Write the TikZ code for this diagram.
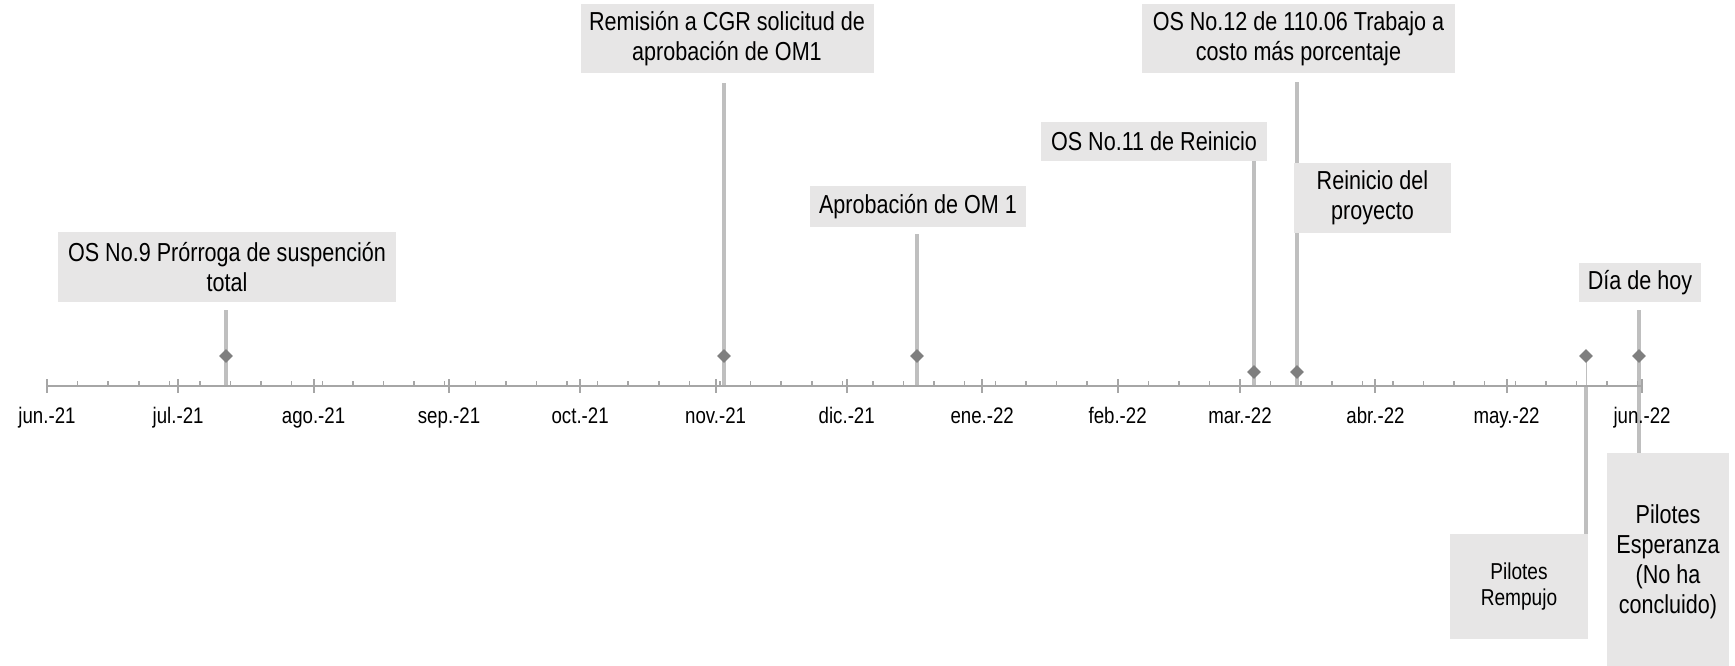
\documentclass[tikz,border=0pt]{standalone}
\usepackage{fontspec}
\setmainfont{Liberation Sans}[FakeStretch=0.83]
\usetikzlibrary{shapes.geometric}
\definecolor{boxgray}{HTML}{E7E6E6}
\definecolor{stemgray}{HTML}{BFBFBF}
\definecolor{axisgray}{HTML}{A6A6A6}
\definecolor{markgray}{HTML}{7F7F7F}
\begin{document}
\begin{tikzpicture}[x=1pt,y=-1pt,
  evbox/.style={fill=boxgray, inner sep=0pt, align=center, font=\fontsize{26}{30}\selectfont, text=black},
  stem/.style={draw=stemgray, line width=3.5pt},
  thinstem/.style={draw=stemgray, line width=1pt},
  marker/.style={diamond, fill=markgray, minimum width=14pt, minimum height=14pt, inner sep=0pt},
  axisline/.style={draw=axisgray, line width=2.5pt},
  majortick/.style={draw=axisgray, line width=2pt},
  minortick/.style={draw=axisgray, line width=1.5pt},
  monthlbl/.style={font=\fontsize{22.5}{26}\selectfont, anchor=base, inner sep=0pt}
]
\useasboundingbox (0,0) rectangle (1735,665);

% stems
\coordinate (s1t) at (226,310); \coordinate (s1b) at (226,386);
\coordinate (s2t) at (724,83);  \coordinate (s2b) at (724,386);
\coordinate (s3t) at (917,234); \coordinate (s3b) at (917,386);
\coordinate (s4t) at (1254,161); \coordinate (s4b) at (1254,386);
\coordinate (s5t) at (1297,82); \coordinate (s5b) at (1297,386);
\coordinate (s8t) at (1586,356); \coordinate (s8m) at (1586,386); \coordinate (s8b) at (1586,534);
\coordinate (s7t) at (1639,310); \coordinate (s7m) at (1639,386); \coordinate (s7b) at (1639,453);

\draw[stem] (s1t) -- (s1b);
\draw[stem] (s2t) -- (s2b);
\draw[stem] (s3t) -- (s3b);
\draw[stem] (s4t) -- (s4b);
\draw[stem] (s5t) -- (s5b);
\draw[thinstem] (s8t) -- (s8m);
\draw[stem] (s8m) -- (s8b);
\draw[stem] (s7t) -- (s7m);
\draw[stem] (s7m) -- (s7b);

% boxes
\node[evbox, minimum width=338pt, minimum height=70pt] (b1) at (227,267) {OS No.9 Prórroga de suspención\\total};
\node[evbox, minimum width=293pt, minimum height=69pt] (b2) at (727,38.5) {Remisión a CGR solicitud de\\aprobación de OM1};
\node[evbox, minimum width=216pt, minimum height=41pt] (b3) at (918,206.5) {Aprobación de OM 1};
\node[evbox, minimum width=226pt, minimum height=39pt] (b4) at (1154,141.5) {OS No.11 de Reinicio};
\node[evbox, minimum width=313pt, minimum height=69pt] (b5) at (1298.5,38.5) {OS No.12 de 110.06 Trabajo a\\costo más porcentaje};
\node[evbox, minimum width=157pt, minimum height=70pt] (b6) at (1372.5,198) {Reinicio del\\proyecto};
\node[evbox, minimum width=122pt, minimum height=39pt] (b7) at (1640,282.5) {Día de hoy};
\node[evbox, minimum width=138pt, minimum height=105pt, font=\fontsize{23}{26.5}\selectfont] (b8) at (1519,586.5) {Pilotes\\Rempujo};
\node[evbox, minimum width=122pt, minimum height=218pt] (b9) at (1668,562) {Pilotes\\Esperanza\\(No ha\\concluido)};

% axis
\coordinate (axL) at (47,386); \coordinate (axR) at (1642,386);
\draw[axisline] (axL) -- (axR);
\foreach \d in {0,30,61,92,122,153,183,214,245,273,304,334,365} {
  \draw[majortick] ({47+4.37*\d},379) -- ({47+4.37*\d},393);
}
\foreach \w in {1,...,52} {
  \draw[minortick] ({47+4.37*7*\w},381) -- ({47+4.37*7*\w},386);
}
\foreach \d/\l [count=\i] in {0/jun.-21,30/jul.-21,61/ago.-21,92/sep.-21,122/oct.-21,153/nov.-21,183/dic.-21,214/ene.-22,245/feb.-22,273/mar.-22,304/abr.-22,334/may.-22,365/jun.-22} {
  \node[monthlbl] (m\i) at ({47+4.37*\d},423) {\l};
}

% markers
\node[marker] (d1) at (226,356) {};
\node[marker] (d2) at (724,356) {};
\node[marker] (d3) at (917,356) {};
\node[marker] (d4) at (1254,372) {};
\node[marker] (d5) at (1297,372) {};
\node[marker] (d8) at (1586,356) {};
\node[marker] (d7) at (1639,356) {};
\end{tikzpicture}
\end{document}
